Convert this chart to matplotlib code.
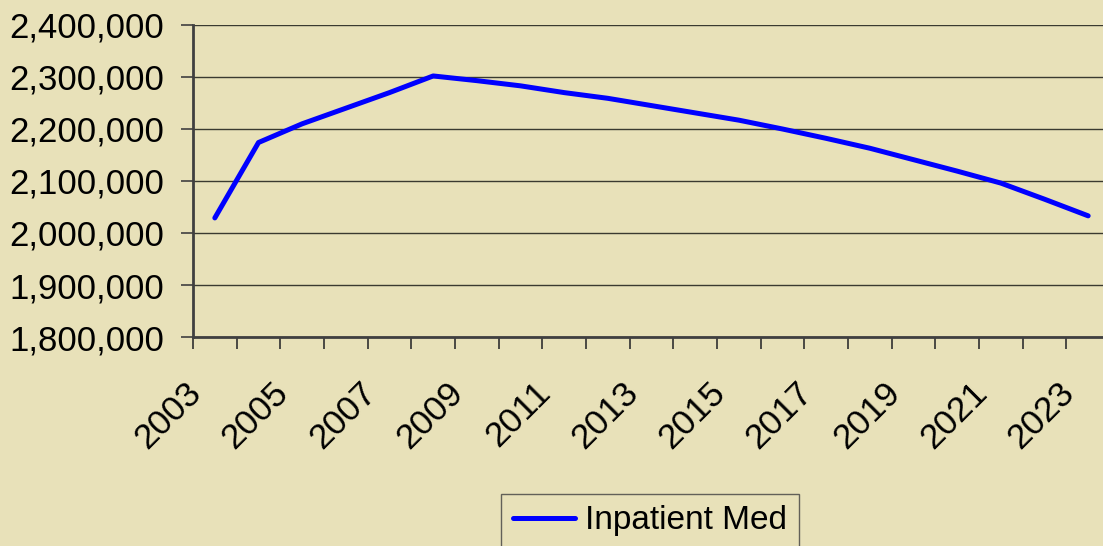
import matplotlib
matplotlib.use("Agg")
import matplotlib.pyplot as plt
import matplotlib.transforms as mtransforms
from matplotlib.ticker import FuncFormatter, MultipleLocator, FixedLocator

# data
years = list(range(2003, 2024))
inpatient_med = [2029000, 2174000, 2210000, 2240000, 2270000, 2302000, 2293000,
                 2283000, 2270000, 2259000, 2245000, 2231000, 2217000, 2200000,
                 2182000, 2163000, 2141000, 2119000, 2096000, 2065000, 2033000]
series_name = "Inpatient Med"

bg = "#E8E1B9"
plt.rcParams["font.family"] = ["Liberation Sans", "DejaVu Sans"]

fig = plt.figure(figsize=(11.03, 5.46), dpi=100, facecolor=bg)
ax = fig.add_axes([193 / 1103, 1 - 337 / 546, (1110 - 193) / 1103, (337 - 25) / 546])
ax.set_facecolor(bg)

pos = list(range(len(years)))
ax.plot(pos, inpatient_med, color="#0000FF", lw=3.6, solid_capstyle="round",
        solid_joinstyle="round", label=series_name, zorder=3)

ax.set_xlim(-0.5, len(years) - 0.5)
ax.set_ylim(1800000, 2400000)
ax.yaxis.set_major_locator(MultipleLocator(100000))
ax.yaxis.set_major_formatter(FuncFormatter(lambda v, p: f"{int(v):,}"))
ax.grid(axis="y", color="#3a3a30", lw=1.0, zorder=1)

# tick marks on category boundaries, labels on every other category
ax.xaxis.set_major_locator(FixedLocator([p - 0.5 for p in pos] + [len(pos) - 0.5]))
ax.xaxis.set_major_formatter(FuncFormatter(lambda v, p: ""))
ax.xaxis.set_minor_locator(FixedLocator(pos[::2]))
ax.set_xticklabels([str(y) for y in years[::2]], minor=True)
ax.tick_params(axis="x", which="major", length=12 / 1.389, width=1.2, color="#303030")
ax.tick_params(axis="x", which="minor", length=0, pad=28, labelsize=25.5)
ax.tick_params(axis="y", length=12 / 1.389, width=1.2, color="#404040", pad=12, labelsize=25)
shift = mtransforms.ScaledTranslation(-7 / 100, 0, fig.dpi_scale_trans)
for lab in ax.get_xticklabels(minor=True):
    lab.set_rotation(45)
    lab.set_ha("right")
    lab.set_transform(lab.get_transform() + shift)

for s in ["top", "right"]:
    ax.spines[s].set_visible(False)
for s in ["left", "bottom"]:
    ax.spines[s].set_color("#404040")
    ax.spines[s].set_linewidth(2)

leg = fig.legend(loc="center", bbox_to_anchor=(650 / 1103, 1 - 521 / 546),
                 fontsize=24, frameon=True, fancybox=False, handlelength=1.85,
                 handletextpad=0.3, borderpad=0.35, borderaxespad=0)
leg.get_frame().set_facecolor(bg)
leg.get_frame().set_edgecolor("#404040")
leg.get_frame().set_linewidth(1.0)

plt.savefig("out.png", dpi=100, facecolor=bg)
